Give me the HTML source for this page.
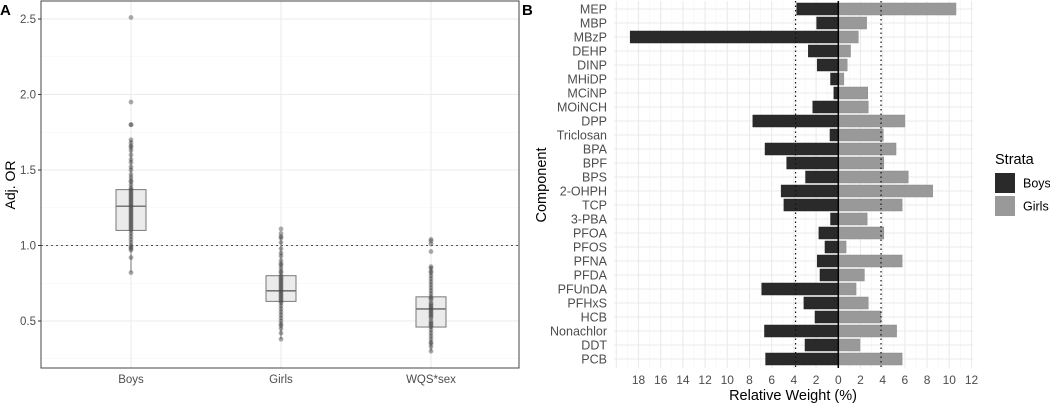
<!DOCTYPE html>
<html><head><meta charset="utf-8"><style>
html,body{margin:0;padding:0;background:#fff;}
svg{display:block;font-family:"Liberation Sans",sans-serif;}
</style></head><body>
<svg id="fig" width="1050" height="403" viewBox="0 0 1050 403"></svg>
<script>
// ---- Panel A data ----
const groupsA = ["Boys","Girls","WQS*sex"];
const boysPts = [2.51,1.95,1.80,1.80,1.70,1.68,1.66,1.65,1.63,1.60,1.57,1.55,1.52,1.50,1.47,1.45,1.43,1.42,1.40,1.38,1.37,1.36,1.35,1.34,1.33,1.32,1.31,1.30,1.29,1.28,1.27,1.26,1.25,1.24,1.23,1.22,1.21,1.20,1.19,1.18,1.17,1.16,1.15,1.14,1.13,1.12,1.11,1.10,1.08,1.06,1.04,1.02,1.00,0.99,0.98,0.97,0.92,0.82];
const girlsPts = [1.11,1.08,1.06,1.05,1.02,0.98,0.95,0.93,0.90,0.88,0.87,0.85,0.83,0.82,0.80,0.79,0.78,0.77,0.76,0.75,0.74,0.73,0.72,0.71,0.70,0.69,0.68,0.67,0.66,0.65,0.64,0.63,0.62,0.60,0.58,0.56,0.54,0.52,0.50,0.48,0.47,0.45,0.42,0.38];
const wqsPts = [1.04,1.03,1.01,0.96,0.86,0.85,0.83,0.82,0.80,0.78,0.76,0.74,0.72,0.70,0.68,0.66,0.65,0.64,0.62,0.61,0.60,0.59,0.58,0.57,0.56,0.55,0.54,0.53,0.52,0.50,0.49,0.48,0.47,0.46,0.44,0.42,0.40,0.38,0.36,0.35,0.33,0.30];
const boxQ1 = [1.10,0.63,0.46];
const boxMed = [1.26,0.70,0.58];
const boxQ3 = [1.37,0.80,0.66];
const whiskLo = [0.82,0.38,0.30];
const whiskHi = [1.70,1.06,0.86];
const yTicksA = [0.5,1.0,1.5,2.0,2.5];
// ---- Panel B data ----
const components = ["MEP","MBP","MBzP","DEHP","DINP","MHiDP","MCiNP","MOiNCH","DPP","Triclosan","BPA","BPF","BPS","2-OHPH","TCP","3-PBA","PFOA","PFOS","PFNA","PFDA","PFUnDA","PFHxS","HCB","Nonachlor","DDT","PCB"];
const boysW = [3.75,1.95,18.75,2.7,1.9,0.7,0.4,2.3,7.7,0.75,6.6,4.65,2.95,5.15,4.9,0.7,1.75,1.2,1.9,1.65,6.9,3.1,2.1,6.65,3.0,6.55];
const girlsW = [10.6,2.55,1.8,1.1,0.8,0.5,2.65,2.7,6.0,4.05,5.2,4.1,6.3,8.5,5.75,2.6,4.1,0.7,5.75,2.35,1.6,2.7,3.85,5.25,1.95,5.75];
const xTicksB = [-18,-16,-14,-12,-10,-8,-6,-4,-2,0,2,4,6,8,10,12];
const threshold = [3.85];

const NS="http://www.w3.org/2000/svg";
const svg=document.getElementById('fig');
function mk(tag,attrs,parent){const e=document.createElementNS(NS,tag);for(const k in attrs)e.setAttribute(k,attrs[k]);(parent||svg).appendChild(e);return e;}

// ===== Panel A =====
const A={l:41,r:519,t:1,b:368};
const yA=v=>19+(2.5-v)*151;
const xA=i=>131+i*150;
const gA=mk('g',{});


for(let v=0.25;v<=2.6;v+=0.25){
  const major=Math.abs(v*2-Math.round(v*2))<1e-6;
  const ln=mk('line',{x1:A.l,x2:A.r,y1:yA(v),y2:yA(v),stroke:major?'#ebebeb':'#f4f4f4','stroke-width':major?1.1:0.6},gA);
  
  
}
groupsA.forEach((g,i)=>{
  const ln=mk('line',{x1:xA(i),x2:xA(i),y1:A.t,y2:A.b,stroke:'#ebebeb','stroke-width':1.1},gA);
  
  
});
const ref=mk('line',{x1:A.l,x2:A.r,y1:yA(1),y2:yA(1),stroke:'#555','stroke-width':0.9,'stroke-dasharray':'2,3'},gA);


const ptsAll=[boysPts,girlsPts,wqsPts];
groupsA.forEach((g,i)=>{
  const w=mk('line',{x1:xA(i),x2:xA(i),y1:yA(whiskHi[i]),y2:yA(whiskLo[i]),stroke:'#777','stroke-width':1},gA);
  
  
  const bx=mk('rect',{x:xA(i)-15,y:yA(boxQ3[i]),width:30,height:yA(boxQ1[i])-yA(boxQ3[i]),fill:'#ebebeb',stroke:'#777','stroke-width':1},gA);
  
  
  const md=mk('line',{x1:xA(i)-15,x2:xA(i)+15,y1:yA(boxMed[i]),y2:yA(boxMed[i]),stroke:'#777','stroke-width':1.6},gA);
  
  
  ptsAll[i].forEach(v=>{
    const c=mk('circle',{cx:xA(i),cy:yA(v),r:2.4,fill:'#444','fill-opacity':0.45},gA);
    
    
  });
  const t=mk('text',{x:xA(i),y:383,'text-anchor':'middle','font-size':11.5,fill:'#4d4d4d'},gA);
  t.textContent=g;
  
  
});
const bA=mk('rect',{x:A.l,y:A.t,width:A.r-A.l,height:A.b-A.t,fill:'none',stroke:'#444','stroke-width':1},gA);


yTicksA.forEach(v=>{
  const tk=mk('line',{x1:A.l-3,x2:A.l,y1:yA(v),y2:yA(v),stroke:'#333'},gA);
  
  
  const t=mk('text',{x:A.l-5,y:yA(v)+4,'text-anchor':'end','font-size':11.5,fill:'#4d4d4d'},gA);
  t.textContent=v.toFixed(1);
  
  
});
const yt=mk('text',{x:0,y:0,transform:'translate(15,185) rotate(-90)','text-anchor':'middle','font-size':14,fill:'#000'},gA);
yt.textContent='Adj. OR';


const la=mk('text',{x:0,y:15,'font-size':15,'font-weight':'bold'},gA);
la.textContent='A';



// ===== Panel B =====
const B={l:614,r:973,t:1,b:368};
const x0=838.3, ppu=11.1;
const xB=v=>x0+v*ppu;
const yB=i=>9+i*14;
const gB=mk('g',{});


for(let v=-20;v<=12;v++){
  const xx=xB(v); if(xx<B.l-0.5||xx>B.r+0.5)continue;
  const ln=mk('line',{x1:xx,x2:xx,y1:B.t,y2:B.b,stroke:v%2===0?'#ebebeb':'#f4f4f4','stroke-width':v%2===0?1.1:0.6},gB);
  
  
}
components.forEach((c,i)=>{
  const ln=mk('line',{x1:B.l,x2:B.r,y1:yB(i),y2:yB(i),stroke:'#ebebeb','stroke-width':1.1},gB);
  
  
});
components.forEach((c,i)=>{
  const rb=mk('rect',{x:xB(-boysW[i]),y:yB(i)-6,width:boysW[i]*ppu,height:12,fill:'#2a2a2a',stroke:'#222','stroke-width':0.5},gB);
  
  
  const rg=mk('rect',{x:xB(0),y:yB(i)-6,width:girlsW[i]*ppu,height:12,fill:'#999',stroke:'#8a8a8a','stroke-width':0.5},gB);
  
  
  const t=mk('text',{x:607,y:yB(i)+4.5,'text-anchor':'end','font-size':12.5,fill:'#4d4d4d'},gB);
  t.textContent=c;
  
  
});
[-threshold[0],threshold[0]].forEach(v=>{
  const ln=mk('line',{x1:xB(v),x2:xB(v),y1:B.t,y2:B.b,stroke:'#111','stroke-width':1.2,'stroke-dasharray':'1.5,3'},gB);
  
  
});
const zl=mk('line',{x1:xB(0),x2:xB(0),y1:B.t,y2:B.b,stroke:'#000','stroke-width':1.5},gB);


xTicksB.forEach(v=>{
  const t=mk('text',{x:xB(v),y:384,'text-anchor':'middle','font-size':12,fill:'#4d4d4d'},gB);
  t.textContent=Math.abs(v);
  
  
});
const xt=mk('text',{x:793,y:400,'text-anchor':'middle','font-size':14.5,fill:'#000'},gB);
xt.textContent='Relative Weight (%)';


const ytb=mk('text',{x:0,y:0,transform:'translate(546,185) rotate(-90)','text-anchor':'middle','font-size':14.5,fill:'#000'},gB);
ytb.textContent='Component';


const lb=mk('text',{x:522,y:15,'font-size':15,'font-weight':'bold'},gB);
lb.textContent='B';



// legend
const gL=mk('g',{});


const lt=mk('text',{x:995,y:164,'font-size':14.5,fill:'#000'},gL);
lt.textContent='Strata';


[['Boys','#2a2a2a',173],['Girls','#999',196]].forEach(([n,c,y])=>{
  const r=mk('rect',{x:995,y:y,width:20,height:20,fill:c},gL);
  
  
  const t=mk('text',{x:1023,y:y+14.5,'font-size':12.5,fill:'#000'},gL);
  t.textContent=n;
  
  
});
</script>
</body></html>
